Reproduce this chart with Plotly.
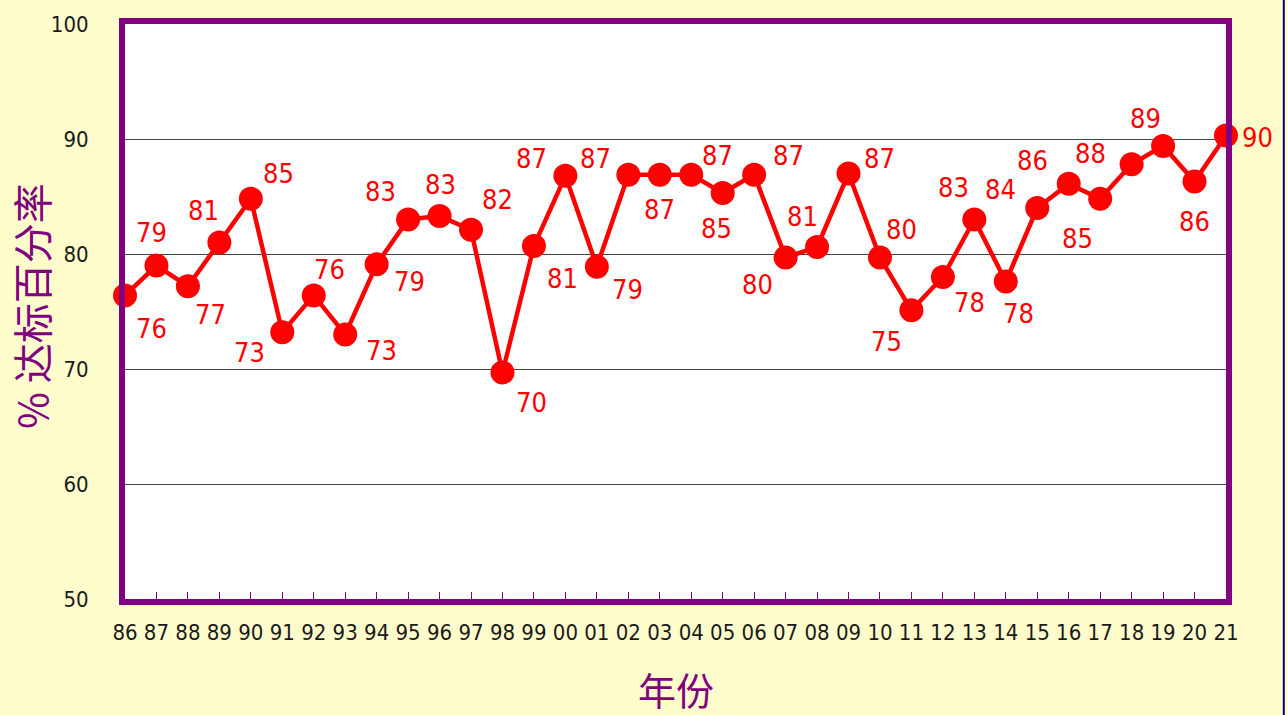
import plotly.graph_objects as go

# Year labels (two-digit) and attainment percentage per year
years = ["86", "87", "88", "89", "90", "91", "92", "93", "94", "95", "96", "97",
         "98", "99", "00", "01", "02", "03", "04", "05", "06", "07", "08", "09",
         "10", "11", "12", "13", "14", "15", "16", "17", "18", "19", "20", "21"]
rates = [76.4, 79.0, 77.2, 81.0, 84.8, 73.2, 76.4, 73.0, 79.1, 83.0, 83.3, 82.1,
         69.7, 80.7, 86.8, 78.9, 86.9, 86.9, 86.9, 85.3, 86.9, 79.7, 80.6, 87.0,
         79.7, 75.1, 78.0, 83.0, 77.6, 84.0, 86.1, 84.8, 87.8, 89.4, 86.3, 90.3]
y_ticks = [50, 60, 70, 80, 90, 100]

# Pixel offsets (dx right, dy down) for each value label
label_offsets = [(26, 33), (-5, -33), (23, 28), (-16, -32), (28, -25), (-33, 20),
                 (16, -26), (36, 16), (33, 17), (-28, -28), (1, -32), (26, -30),
                 (29, 30), (29, 33), (-34, -17), (31, 23), (-33, -16), (0, 35),
                 (26, -19), (-6, 35), (34, -19), (-28, 27), (-15, -31), (31, -15),
                 (22, -28), (-25, 31), (27, 25), (-21, -32), (13, 32), (-37, -19),
                 (-36, -23), (-23, 40), (-41, -11), (-18, -27), (0, 40), (31, 2)]

PURPLE = "#800080"
RED = "#FF0000"
NARROW = "DejaVu Sans Condensed, Liberation Sans Narrow, Roboto, sans-serif"
CJK = "Noto Sans CJK SC, sans-serif"

xs = list(range(len(years)))

fig = go.Figure()
fig.add_trace(go.Scatter(
    x=xs, y=rates, mode="lines+markers",
    line=dict(color=RED, width=4.5),
    marker=dict(color=RED, size=24),
    cliponaxis=False, hoverinfo="y", showlegend=False,
))

for i, v, (dx, dy) in zip(xs, rates, label_offsets):
    fig.add_annotation(
        x=i, y=v, text=f"{v:.0f}", showarrow=False,
        xshift=dx, yshift=-dy,
        font=dict(family=NARROW, size=27, color=RED),
    )

# Axis titles
fig.add_annotation(
    xref="paper", yref="paper", x=0.5, y=-0.155, yanchor="middle",
    text="年份", showarrow=False,
    font=dict(family=CJK, size=38, color=PURPLE),
)
fig.add_annotation(
    xref="paper", yref="paper", x=-0.086, y=0.51, xanchor="center", yanchor="middle",
    text="% 达标百分率", textangle=-90, showarrow=False,
    font=dict(family=CJK, size=40, color=PURPLE),
)

# Dark edge line at the right of the page
fig.add_shape(type="line", xref="paper", yref="paper",
              x0=1.0525, x1=1.0525, y0=-0.3, y1=1.1,
              line=dict(color="#000080", width=2))

fig.update_layout(
    width=1287, height=715,
    margin=dict(l=125, r=61, t=17, b=116),
    paper_bgcolor="#FFFDCC",
    plot_bgcolor="#FFFFFF",
    font=dict(family=NARROW, color="#1a1a1a"),
)
fig.update_xaxes(
    range=[0, len(years) - 1], tickvals=xs, ticktext=years,
    showline=True, mirror=True, linecolor=PURPLE, linewidth=6,
    ticks="inside", ticklen=7, tickcolor=PURPLE, tickwidth=1,
    showgrid=False, zeroline=False,
    tickfont=dict(family=NARROW, size=22, color="#1a1a1a"),
    ticklabelstandoff=9,
)
fig.update_yaxes(
    range=[50, 100], tickvals=y_ticks,
    showline=True, mirror=True, linecolor=PURPLE, linewidth=6,
    showgrid=True, gridcolor="#444444", gridwidth=1, zeroline=False,
    ticks="", tickfont=dict(family=NARROW, size=22, color="#1a1a1a"),
    ticklabelstandoff=26,
)

fig.write_html("out.html")
